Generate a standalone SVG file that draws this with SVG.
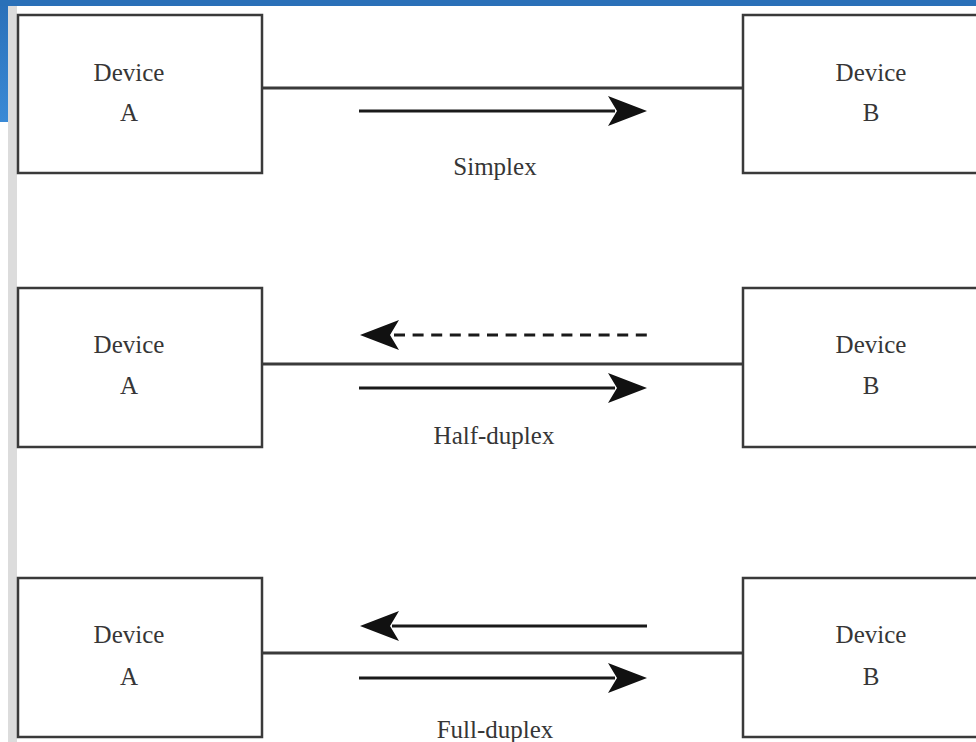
<svg xmlns="http://www.w3.org/2000/svg" width="976" height="742" viewBox="0 0 976 742">
<defs>
<style>
.box{fill:#fff;stroke:#3a3a3a;stroke-width:2.5}
.wire{stroke:#3a3a3a;stroke-width:3;fill:none}
.arr{stroke:#1a1a1a;stroke-width:3;fill:none}
.dash{stroke:#1a1a1a;stroke-width:3;fill:none;stroke-dasharray:11 7.6}
.head{fill:#111}
.t{font-family:"Liberation Serif","Times New Roman",serif;font-size:25px;fill:#363636;text-anchor:middle}
</style>
<linearGradient id="blue" x1="0" y1="0" x2="0" y2="1">
<stop offset="0" stop-color="#2a6fb8"/>
<stop offset="1" stop-color="#3a8ad6"/>
</linearGradient>
</defs>
<rect x="0" y="0" width="976" height="742" fill="#fff"/>
<rect x="0" y="0" width="8" height="122" fill="url(#blue)"/>
<rect x="0" y="0" width="976" height="6" fill="#2a70b8"/>
<rect x="8" y="6" width="9" height="736" fill="#dcdcdc"/>

<g id="connectors">
<line class="wire" x1="262" y1="88" x2="743" y2="88"/>
<line class="arr" x1="359" y1="111" x2="615" y2="111"/>
<path class="head" d="M647,111 L608,96 L617,111 L608,126 Z"/>

<line class="dash" x1="394" y1="335" x2="647" y2="335"/>
<path class="head" d="M360,335 L399,320 L390,335 L399,350 Z"/>
<line class="wire" x1="262" y1="364" x2="743" y2="364"/>
<line class="arr" x1="359" y1="388" x2="615" y2="388"/>
<path class="head" d="M647,388 L608,373 L617,388 L608,403 Z"/>

<line class="arr" x1="392" y1="626" x2="647" y2="626"/>
<path class="head" d="M360,626 L399,611 L390,626 L399,641 Z"/>
<line class="wire" x1="262" y1="653" x2="743" y2="653"/>
<line class="arr" x1="359" y1="678" x2="615" y2="678"/>
<path class="head" d="M647,678 L608,663 L617,678 L608,693 Z"/>
</g>

<g id="simplex-a">
<rect class="box" x="18" y="15" width="244" height="158"/>
<text class="t" x="129" y="81">Device</text>
<text class="t" x="129" y="121">A</text>
</g>
<g id="simplex-b">
<rect class="box" x="743" y="15" width="260" height="158"/>
<text class="t" x="871" y="81">Device</text>
<text class="t" x="871" y="121">B</text>
</g>
<text class="t" x="495" y="175">Simplex</text>

<g id="half-a">
<rect class="box" x="18" y="288" width="244" height="159"/>
<text class="t" x="129" y="353">Device</text>
<text class="t" x="129" y="394">A</text>
</g>
<g id="half-b">
<rect class="box" x="743" y="288" width="260" height="159"/>
<text class="t" x="871" y="353">Device</text>
<text class="t" x="871" y="394">B</text>
</g>
<text class="t" x="494" y="444">Half-duplex</text>

<g id="full-a">
<rect class="box" x="18" y="578" width="244" height="159"/>
<text class="t" x="129" y="643">Device</text>
<text class="t" x="129" y="685">A</text>
</g>
<g id="full-b">
<rect class="box" x="743" y="578" width="260" height="159"/>
<text class="t" x="871" y="643">Device</text>
<text class="t" x="871" y="685">B</text>
</g>
<text class="t" x="495" y="738">Full-duplex</text>
</svg>
